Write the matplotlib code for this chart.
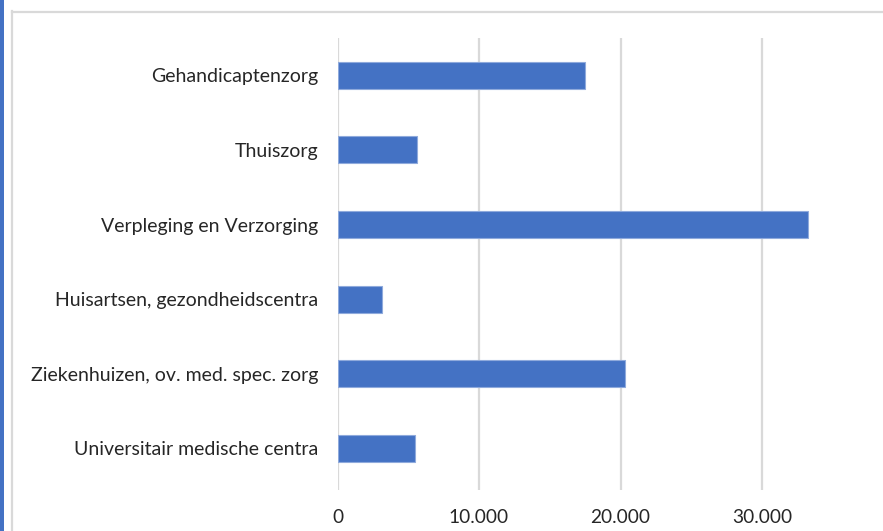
import matplotlib
matplotlib.use("Agg")
import matplotlib.pyplot as plt
from matplotlib.patches import Rectangle

categories = [
    "Gehandicaptenzorg",
    "Thuiszorg",
    "Verpleging en Verzorging",
    "Huisartsen, gezondheidscentra",
    "Ziekenhuizen, ov. med. spec. zorg",
    "Universitair medische centra",
]
values = [17500, 5650, 33230, 3120, 20300, 5500]
xticks = [0, 10000, 20000, 30000]
xtick_labels = ["0", "10.000", "20.000", "30.000"]

W, H = 883, 531
fig = plt.figure(figsize=(W / 100, H / 100), dpi=100)
fig.patch.set_facecolor("white")

# outer decorations: blue strip at left, gray chart frame
fig.patches.append(Rectangle((0, 0), 4 / W, 1, transform=fig.transFigure,
                             facecolor="#4472C4", edgecolor="none", zorder=0))
fig.add_artist(plt.Line2D([11.5 / W, 11.5 / W], [0, 1 - 11 / H], transform=fig.transFigure,
                          color="#d9d9d9", lw=1.6))
fig.add_artist(plt.Line2D([11.5 / W, 1], [1 - 11.5 / H, 1 - 11.5 / H], transform=fig.transFigure,
                          color="#d9d9d9", lw=1.6))

x0, xmax = 337.5, 38000
px_per = 141.5 / 10000
left = x0 / W
right = (x0 + xmax * px_per) / W
top = 1 - 38 / H
bottom = 1 - 490 / H
ax = fig.add_axes([left, bottom, right - left, top - bottom])

n = len(categories)
ypos = list(range(n))
ax.barh(ypos, values, height=0.362, color="#4472C4", edgecolor="#8faadc", linewidth=0.8, zorder=3)
ax.set_ylim(-0.5 + 452 / 74.6, -0.5)
ax.set_xlim(0, xmax)

ax.set_xticks(xticks)
ax.set_xticklabels(xtick_labels)
ax.set_yticks(ypos)
ax.set_yticklabels(categories)

font = "Lato"
for lab in ax.get_yticklabels():
    lab.set_fontfamily(font)
    lab.set_fontsize(14)
    lab.set_color("#262626")
for lab in ax.get_xticklabels():
    lab.set_fontfamily(font)
    lab.set_fontsize(13.8)
    lab.set_color("#262626")

ax.tick_params(axis="y", length=0, pad=14)
ax.tick_params(axis="x", length=0, pad=14)
ax.grid(axis="x", color="#d9d9d9", linewidth=1.6, zorder=0)
ax.set_axisbelow(True)
for s in ax.spines.values():
    s.set_visible(False)

fig.savefig("out.png", dpi=100, facecolor="white")
